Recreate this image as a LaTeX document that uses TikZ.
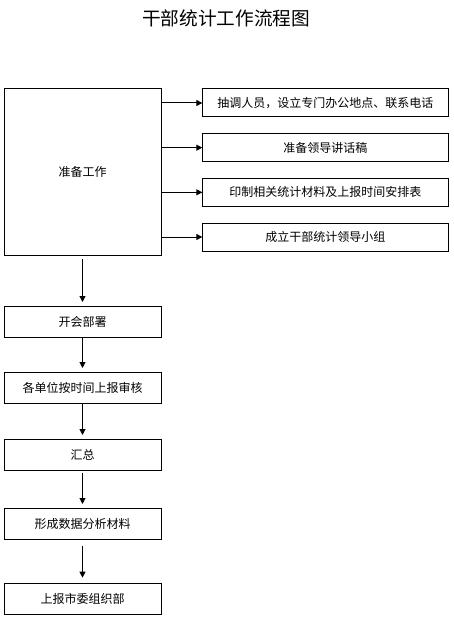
\documentclass[tikz,border=0pt]{standalone}
\usepackage{fontspec}
\setmainfont{Noto Sans CJK SC}
\usetikzlibrary{positioning,arrows.meta}

\begin{document}
\begin{tikzpicture}[
    font=\fontsize{9pt}{11pt}\selectfont,
    every node/.style={align=center},
    bigbox/.style={draw, line width=0.75pt, minimum width=117.75pt, minimum height=124.5pt,
                   inner sep=2pt, outer sep=0pt},
    box/.style={draw, line width=0.75pt, minimum width=117.75pt, minimum height=23.25pt,
                inner sep=2pt, outer sep=0pt},
    sidebox/.style={draw, line width=0.75pt, minimum width=184.5pt, minimum height=21pt,
                    inner sep=2pt, outer sep=0pt},
    arr/.style={-{Triangle[length=4.5pt, width=4.5pt]}, line width=0.75pt},
    node distance=12.5pt,
]
\useasboundingbox (0,0) rectangle (339.75pt,-468pt);

% Title
\node (title) at (169.5pt,-13.5pt) {\fontsize{14pt}{16pt}\selectfont 干部统计工作流程图};

% Preparation and its four tasks
\node[bigbox, anchor=north west] (prep) at (3pt,-66.75pt) {准备工作};
\node[sidebox, right=31pt of prep.north east, anchor=north west] (staff) {抽调人员，设立专门办公地点、联系电话};
\node[sidebox, below=of staff] (speech) {准备领导讲话稿};
\node[sidebox, below=of speech] (print) {印制相关统计材料及上报时间安排表};
\node[sidebox, below=of print] (group) {成立干部统计领导小组};

% Main flow
\node[box, below=38.25pt of prep]     (meeting)  {开会部署};
\node[box, below=26.25pt of meeting]  (report)   {各单位按时间上报审核};
\node[box, below=27pt of report]      (sum)      {汇总};
\node[box, below=28.5pt of sum]       (analysis) {形成数据分析材料};
\node[box, below=33pt of analysis]    (submit)   {上报市委组织部};

% Arrows
\draw[arr] (prep.east |- staff.west)  -- (staff.west);
\draw[arr] (prep.east |- speech.west) -- (speech.west);
\draw[arr] (prep.east |- print.west)  -- (print.west);
\draw[arr] (prep.east |- group.west)  -- (group.west);

\draw[arr, shorten <=3pt, shorten >=3pt] (prep)     -- (meeting);
\draw[arr, shorten >=3pt]                (meeting)  -- (report);
\draw[arr, shorten <=1pt, shorten >=3pt] (report)   -- (sum);
\draw[arr, shorten <=2pt, shorten >=3pt] (sum)      -- (analysis);
\draw[arr, shorten <=5pt, shorten >=4pt] (analysis) -- (submit);

\end{tikzpicture}
\end{document}
